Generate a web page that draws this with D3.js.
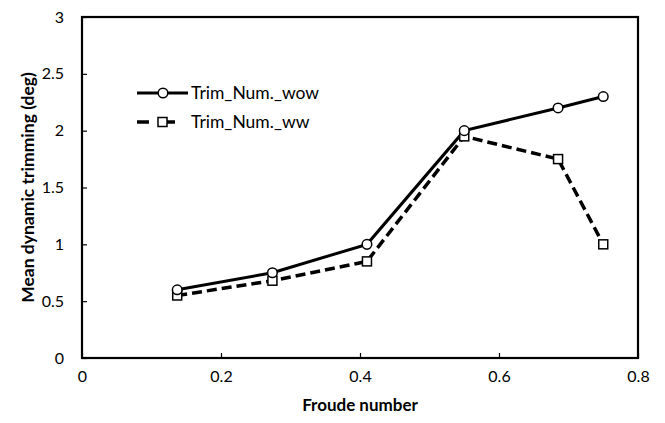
<!DOCTYPE html>
<html><head><meta charset="utf-8">
<script src="https://cdn.jsdelivr.net/npm/d3@7"></script>
<style>body{margin:0;background:#fff}svg{display:block}text{font-family:Lato,"Open Sans",sans-serif;fill:#000}</style>
</head><body><svg id="c" width="665" height="423"></svg>
<script>
const froude = [0.137, 0.274, 0.41, 0.55, 0.685, 0.75];
const trimWow = [0.6, 0.75, 1.0, 2.0, 2.2, 2.3];
const trimWw = [0.55, 0.68, 0.85, 1.95, 1.75, 1.0];
const seriesNames = ["Trim_Num._wow", "Trim_Num._ww"];
const xTicks = [0, 0.2, 0.4, 0.6, 0.8];
const yTicks = [0, 0.5, 1, 1.5, 2, 2.5, 3];
const xTitle = "Froude number";
const yTitle = "Mean dynamic trimming (deg)";

const svg = d3.select("#c");
const L = 82, R = 638, T = 17, B = 358;
const x = d3.scaleLinear().domain([0, 0.8]).range([L, R]);
const y = d3.scaleLinear().domain([0, 3]).range([B, T]);

const xa = svg.append("g").attr("transform", `translate(0,${B})`)
  .call(d3.axisBottom(x).tickValues(xTicks).tickFormat(d => d3.format("")(d)).tickSizeInner(-5).tickSizeOuter(0).tickPadding(13));
const ya = svg.append("g").attr("transform", `translate(${L},0)`)
  .call(d3.axisLeft(y).tickValues(yTicks).tickFormat(d => d3.format("")(d)).tickSizeInner(-5).tickSizeOuter(0).tickPadding(18));
[xa, ya].forEach(a => {
  a.select(".domain").remove();
  a.selectAll(".tick line").attr("stroke", "#000").attr("stroke-width", 1.2);
  a.selectAll(".tick text").style("font-size", "16px").style("font-family", "Lato,'Open Sans',sans-serif").attr("fill", "#000");
});
svg.append("rect").attr("x", L).attr("y", T).attr("width", R - L).attr("height", B - T)
  .attr("fill", "none").attr("stroke", "#000").attr("stroke-width", 2.2);

svg.append("text").attr("x", (L + R) / 2).attr("y", 411).attr("text-anchor", "middle")
  .style("font-size", "17px").style("font-weight", "bold").text(xTitle);
svg.append("text").attr("transform", `translate(34,${(T + B) / 2}) rotate(-90)`).attr("text-anchor", "middle")
  .style("font-size", "17.5px").style("font-weight", "bold").text(yTitle);

const line = d3.line().x(d => x(d[0])).y(d => y(d[1]));
const d1 = froude.map((f, i) => [f, trimWow[i]]);
const d2 = froude.map((f, i) => [f, trimWw[i]]);

svg.append("path").datum(d2).attr("d", line).attr("fill", "none").attr("stroke", "#000")
  .attr("stroke-width", 3.5).attr("stroke-dasharray", "10,5");
svg.append("path").datum(d1).attr("d", line).attr("fill", "none").attr("stroke", "#000").attr("stroke-width", 3);

svg.selectAll(".sq").data(d2).enter().append("rect")
  .attr("x", d => x(d[0]) - 4.5).attr("y", d => y(d[1]) - 4.5).attr("width", 9).attr("height", 9)
  .attr("fill", "#fff").attr("stroke", "#000").attr("stroke-width", 1.5);
svg.selectAll(".ci").data(d1).enter().append("circle")
  .attr("cx", d => x(d[0])).attr("cy", d => y(d[1])).attr("r", 4.8)
  .attr("fill", "#fff").attr("stroke", "#000").attr("stroke-width", 1.5);

const lg = svg.append("g");
const rows = [93, 122];
lg.append("line").attr("x1", 137).attr("x2", 188).attr("y1", rows[0]).attr("y2", rows[0]).attr("stroke", "#000").attr("stroke-width", 3);
lg.append("circle").attr("cx", 163).attr("cy", rows[0]).attr("r", 4.8).attr("fill", "#fff").attr("stroke", "#000").attr("stroke-width", 1.5);
lg.append("line").attr("x1", 137).attr("x2", 188).attr("y1", rows[1]).attr("y2", rows[1]).attr("stroke", "#000").attr("stroke-width", 3.5).attr("stroke-dasharray", "12,14");
lg.append("rect").attr("x", 158).attr("y", rows[1] - 4.5).attr("width", 9).attr("height", 9).attr("fill", "#fff").attr("stroke", "#000").attr("stroke-width", 1.5);
seriesNames.forEach((n, i) => {
  lg.append("text").attr("x", 191).attr("y", rows[i]).attr("dy", "0.35em").style("font-size", "17.5px").text(n);
});
</script></body></html>
